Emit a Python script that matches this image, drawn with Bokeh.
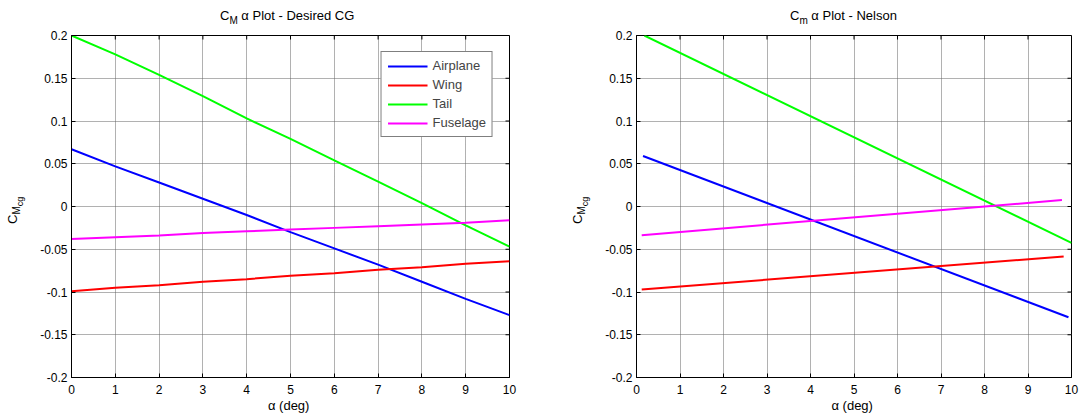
from bokeh.embed import file_html
from bokeh.layouts import column, row
from bokeh.models import Div, FixedTicker, Range1d
from bokeh.plotting import figure
from bokeh.resources import INLINE

# ---- data -------------------------------------------------------------
series_names = ["Airplane", "Wing", "Tail", "Fuselage"]
series_colors = ["#0000FF", "#FF0000", "#00FF00", "#FF00FF"]

# Desired CG build-up (deg, Cm)
alpha_cg = [0, 1, 2, 3, 4, 5, 6, 7, 8, 9, 10]
cm_airplane_cg = [0.067, 0.047, 0.028, 0.009, -0.010, -0.030, -0.049, -0.068, -0.088, -0.108, -0.127]
cm_wing_cg = [-0.099, -0.095, -0.092, -0.088, -0.085, -0.081, -0.078, -0.074, -0.071, -0.067, -0.064]
cm_tail_cg = [0.200, 0.178, 0.154, 0.129, 0.103, 0.079, 0.054, 0.029, 0.004, -0.022, -0.047]
cm_fuselage_cg = [-0.038, -0.036, -0.034, -0.031, -0.029, -0.027, -0.025, -0.023, -0.021, -0.019, -0.016]

# Nelson method (deg, Cm)
alpha_nelson_airplane = [0.15, 9.93]
cm_airplane_nelson = [0.059, -0.1296]
alpha_nelson_wing = [0.12, 9.82]
cm_wing_nelson = [-0.097, -0.0585]
alpha_nelson_tail = [0.18, 10.0]
cm_tail_nelson = [0.200, -0.0425]
alpha_nelson_fuselage = [0.12, 9.78]
cm_fuselage_nelson = [-0.0335, 0.0075]

x_ticks = [0, 1, 2, 3, 4, 5, 6, 7, 8, 9, 10]
y_ticks = [-0.2, -0.15, -0.1, -0.05, 0, 0.05, 0.1, 0.15, 0.2]
y_tick_labels = ["-0.2", "-0.15", "-0.1", "-0.05", "0", "0.05", "0.1", "0.15", "0.2"]

X0, X1 = 0, 10
Y0, Y1 = -0.2, 0.2

# ---- styling / layout -------------------------------------------------
FONT = "Liberation Sans"
TOP_PAD = 9            # room above the frame kept inside the figure
TITLE_H = 35 - TOP_PAD
FRAME_H = 342
BOTTOM_H = 40
FIG_H = TOP_PAD + FRAME_H + BOTTOM_H
TICK_PX = 4


def make_panel(fig_w, border_left, frame_w):
    p = figure(
        width=fig_w, height=FIG_H,
        x_range=Range1d(X0, X1), y_range=Range1d(Y0, Y1),
        output_backend="svg", toolbar_location=None,
        min_border_left=border_left, min_border_right=fig_w - border_left - frame_w,
        min_border_top=TOP_PAD, min_border_bottom=BOTTOM_H,
        background_fill_color="white", border_fill_color="white",
        outline_line_color="black", outline_line_width=1,
    )
    p.title = None
    for ax in (p.xaxis[0], p.yaxis[0]):
        ax.axis_line_color = "black"
        ax.major_tick_line_color = "black"
        ax.major_tick_in = TICK_PX
        ax.major_tick_out = 0
        ax.minor_tick_line_color = None
        ax.major_label_text_font = FONT
        ax.major_label_text_font_size = "12px"
        ax.major_label_text_color = "black"
    p.xaxis.ticker = FixedTicker(ticks=x_ticks)
    p.yaxis.ticker = FixedTicker(ticks=y_ticks)
    p.yaxis.major_label_overrides = dict(zip(y_ticks, y_tick_labels))
    p.xaxis.major_label_standoff = 7
    p.yaxis.major_label_standoff = 4

    p.xaxis.axis_label = "\u03b1  (deg)"
    p.xaxis.axis_label_text_font = FONT
    p.xaxis.axis_label_text_font_size = "13px"
    p.xaxis.axis_label_text_font_style = "normal"
    p.xaxis.axis_label_text_color = "black"
    p.xaxis.axis_label_standoff = 1

    p.xgrid.ticker = FixedTicker(ticks=x_ticks)
    p.ygrid.ticker = FixedTicker(ticks=y_ticks)
    for g in (p.xgrid[0], p.ygrid[0]):
        g.grid_line_color = "#626262"
        g.grid_line_dash = "1 1"
        g.grid_line_width = 1

    # tick marks along the top and right edges of the box
    dy = TICK_PX / FRAME_H * (Y1 - Y0)
    dx = TICK_PX / frame_w * (X1 - X0)
    p.segment(x0=x_ticks, y0=[Y1] * len(x_ticks), x1=x_ticks, y1=[Y1 - dy] * len(x_ticks),
              line_color="black", line_width=1)
    p.segment(x0=[X1] * len(y_ticks), y0=y_ticks, x1=[X1 - dx] * len(y_ticks), y1=y_ticks,
              line_color="black", line_width=1)
    return p


def title_div(width, left, main, sub, rest):
    html = (
        f'<div style="position:relative;width:{width}px;height:{TITLE_H}px;">'
        f'<span style="position:absolute;left:{left}px;top:9px;white-space:nowrap;'
        f'font-family:\'{FONT}\';font-size:13px;line-height:13px;color:black;">'
        f'{main}<span style="position:relative;top:4px;font-size:10px;">{sub}</span> {rest}'
        f'</span></div>'
    )
    return Div(text=html, width=width, height=TITLE_H, margin=0)


def ylabel_div(width, left, top):
    html = (
        f'<div style="position:relative;width:{width}px;height:{FIG_H}px;">'
        f'<span style="position:absolute;left:{left}px;top:{top}px;white-space:nowrap;'
        f'transform:rotate(-90deg);transform-origin:0 0;'
        f'font-family:\'{FONT}\';font-size:13px;line-height:13px;color:black;">'
        f'C<span style="position:relative;top:3px;font-size:10px;">M</span>'
        f'<span style="position:relative;top:5.5px;font-size:9px;">cg</span>'
        f'</span></div>'
    )
    return Div(text=html, width=width, height=FIG_H, margin=0)


# ---- left panel: desired CG ------------------------------------------
p1 = make_panel(510, 41, 438)
left_series = [cm_airplane_cg, cm_wing_cg, cm_tail_cg, cm_fuselage_cg]
for name, color, ys in zip(series_names, series_colors, left_series):
    p1.line(alpha_cg, ys, line_color=color, line_width=2, legend_label=name)

lg = p1.legend[0]
lg.location = "top_right"
lg.margin = 16
lg.padding = 6
lg.spacing = 4
lg.glyph_width = 40
lg.glyph_height = 14
lg.label_height = 14
lg.label_standoff = 5
lg.label_text_font = FONT
lg.label_text_font_size = "13px"
lg.border_line_color = "black"
lg.border_line_width = 1
lg.background_fill_color = "white"
lg.background_fill_alpha = 1.0

# ---- right panel: Nelson ----------------------------------------------
p2 = make_panel(480, 36, 435)
right_series = [
    (alpha_nelson_airplane, cm_airplane_nelson),
    (alpha_nelson_wing, cm_wing_nelson),
    (alpha_nelson_tail, cm_tail_nelson),
    (alpha_nelson_fuselage, cm_fuselage_nelson),
]
for color, (xs, ys) in zip(series_colors, right_series):
    p2.line(xs, ys, line_color=color, line_width=2)

ylab_top = 224 - TITLE_H
left_block = column(
    title_div(540, 220, "C", "M", "\u03b1 Plot - Desired CG"),
    row(ylabel_div(30, 6, ylab_top), p1, spacing=0),
    spacing=0,
)
right_block = column(
    title_div(540, 250, "C", "m", "\u03b1 Plot - Nelson"),
    row(ylabel_div(60, 31, ylab_top), p2, spacing=0),
    spacing=0,
)
layout = row(left_block, right_block, spacing=0)
open("out.html", "w").write(file_html(layout, INLINE))
